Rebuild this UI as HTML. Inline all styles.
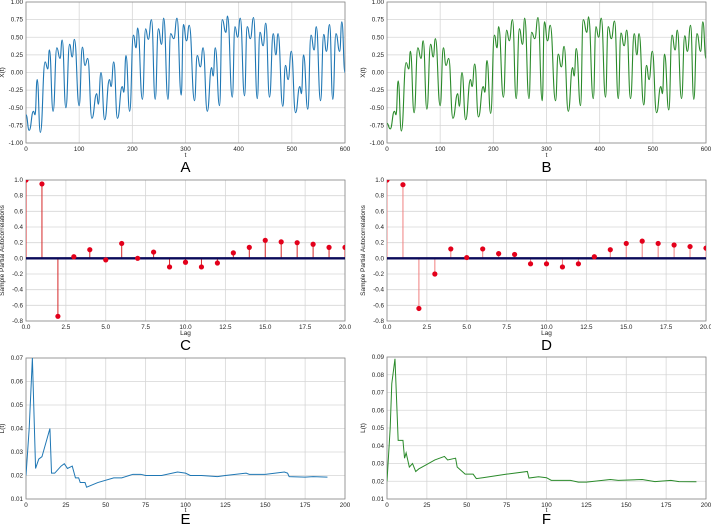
<!DOCTYPE html>
<html><head><meta charset="utf-8"><style>
html,body{margin:0;padding:0;background:#fff;}
svg{display:block;font-family:"Liberation Sans","DejaVu Sans",sans-serif;}
</style></head><body>
<svg id="fig" width="711" height="527" viewBox="0 0 711 527" xmlns="http://www.w3.org/2000/svg"></svg>
<script>
// ---- data ----
const seriesA_t = [0,6,14,17,21,27,36,41,44,51,58,64,68,75,82,87,91,100,106,111,116,124,133,136,141,148,157,160,165,172,181,184,188,195,202,207,210,219,225,230,236,243,249,255,259,267,272,278,284,292,296,302,307,317,322,328,333,341,349,352,356,364,369,376,379,388,393,398,403,411,416,422,428,435,440,446,451,458,465,470,474,483,488,493,499,507,515,518,522,530,536,542,546,554,560,565,571,577,583,590,594,600];
const seriesA_x = [-0.6,-0.82,-0.55,-0.6,-0.1,-0.85,0.15,0.05,0.32,-0.55,0.35,0.2,0.46,-0.5,0.4,0.22,0.47,-0.47,0.36,0.1,0.2,-0.65,-0.3,-0.45,0.0,-0.67,-0.1,-0.2,0.15,-0.65,-0.2,-0.28,0.24,-0.55,0.53,0.35,0.63,-0.38,0.62,0.47,0.75,-0.38,0.62,0.4,0.77,-0.38,0.55,0.48,0.77,-0.32,0.68,0.45,0.67,-0.4,0.24,0.08,0.35,-0.55,0.07,-0.05,0.35,-0.47,0.75,0.57,0.8,-0.35,0.65,0.5,0.77,-0.33,0.65,0.48,0.78,-0.37,0.57,0.38,0.7,-0.35,0.55,0.25,0.55,-0.48,0.1,-0.1,0.3,-0.57,-0.2,-0.3,0.25,-0.52,0.53,0.32,0.65,-0.4,0.54,0.3,0.68,-0.38,0.55,0.3,0.72,0.0];
const seriesB_t = seriesA_t.slice();
const seriesB_x = [-0.72,-0.8,-0.55,-0.6,-0.12,-0.83,0.14,0.05,0.3,-0.57,0.35,0.2,0.45,-0.52,0.4,0.22,0.48,-0.47,0.35,0.1,0.2,-0.65,-0.3,-0.48,0.0,-0.67,-0.1,-0.2,0.12,-0.63,-0.2,-0.28,0.17,-0.58,0.53,0.35,0.65,-0.35,0.6,0.45,0.75,-0.37,0.62,0.4,0.77,-0.37,0.57,0.48,0.78,-0.4,0.72,0.45,0.67,-0.4,0.26,0.08,0.37,-0.55,0.07,-0.05,0.34,-0.47,0.75,0.57,0.79,-0.37,0.65,0.5,0.77,-0.35,0.65,0.48,0.73,-0.37,0.56,0.38,0.6,-0.37,0.55,0.25,0.55,-0.46,0.1,-0.1,0.3,-0.57,-0.2,-0.3,0.26,-0.53,0.53,0.32,0.6,-0.37,0.52,0.3,0.67,-0.38,0.55,0.3,0.72,0.2];
const lagsC = [0,1,2,3,4,5,6,7,8,9,10,11,12,13,14,15,16,17,18,19,20];
const pacfC = [1.0,0.95,-0.74,0.02,0.11,-0.02,0.19,0.0,0.08,-0.11,-0.05,-0.11,-0.06,0.07,0.14,0.23,0.21,0.20,0.18,0.14,0.14];
const pacfD = [1.0,0.94,-0.64,-0.20,0.12,0.01,0.12,0.06,0.05,-0.07,-0.07,-0.11,-0.07,0.02,0.11,0.19,0.22,0.19,0.17,0.15,0.13];
const lossE_t = [0,2,4,6,8,10,15,16,18,22,24,26,29,31,33,34,37,38,45,55,60,67,72,75,85,95,100,103,110,120,125,138,140,145,150,162,164,165,175,180,189];
const lossE_v = [0.02,0.04,0.07,0.023,0.027,0.028,0.04,0.021,0.021,0.024,0.025,0.023,0.024,0.019,0.019,0.017,0.017,0.015,0.017,0.019,0.019,0.0205,0.0205,0.02,0.02,0.0215,0.021,0.02,0.02,0.0195,0.02,0.021,0.0205,0.0205,0.0205,0.0215,0.021,0.0195,0.0193,0.0195,0.0193];
const lossF_t = [0,2,3,5,7,10,11,12,14,16,18,20,24,30,36,38,43,44,49,54,56,60,75,88,89,95,100,103,115,120,125,140,145,160,168,178,183,194];
const lossF_v = [0.02,0.05,0.075,0.089,0.043,0.043,0.033,0.036,0.028,0.030,0.0255,0.027,0.029,0.032,0.034,0.032,0.033,0.028,0.024,0.024,0.0215,0.022,0.024,0.0255,0.0218,0.0225,0.022,0.0205,0.0205,0.0195,0.0195,0.021,0.0205,0.021,0.0198,0.0205,0.0198,0.0197];
const ticksT600 = [0,100,200,300,400,500,600];
const ticksX = [-1,-0.75,-0.5,-0.25,0,0.25,0.5,0.75,1];
const ticksLag = [0,2.5,5,7.5,10,12.5,15,17.5,20];
const ticksPacf = [-0.8,-0.6,-0.4,-0.2,0,0.2,0.4,0.6,0.8,1.0];
const ticksT200 = [0,25,50,75,100,125,150,175,200];
const ticksE = [0.01,0.02,0.03,0.04,0.05,0.06,0.07];
const ticksF = [0.01,0.02,0.03,0.04,0.05,0.06,0.07,0.08,0.09];

const NS="http://www.w3.org/2000/svg";
const fig=document.getElementById('fig');
function mk(tag,attrs,parent){const e=document.createElementNS(NS,tag);for(const k in attrs)e.setAttribute(k,attrs[k]);(parent||fig).appendChild(e);return e;}
let clipN=0;
function panel(o){
  const g=mk('g',{});
  
  
  const sx=v=>o.l+(v-o.x0)/(o.x1-o.x0)*(o.r-o.l);
  const sy=v=>o.b-(v-o.y0)/(o.y1-o.y0)*(o.b-o.t);
  const id='clip'+(clipN++);
  const cp=mk('clipPath',{id},g);
  mk('rect',{x:o.l,y:o.t,width:o.r-o.l,height:o.b-o.t},cp);
  o.xt.forEach(v=>{
    mk('line',{x1:sx(v),x2:sx(v),y1:o.t,y2:o.b,stroke:'#d6d6d6','stroke-width':0.8},g);
    const tx=mk('text',{x:sx(v),y:o.b+8,'font-size':6.3,'text-anchor':'middle',fill:'#222'},g);
    tx.textContent=o.xf(v);
    
    
  });
  o.yt.forEach(v=>{
    mk('line',{x1:o.l,x2:o.r,y1:sy(v),y2:sy(v),stroke:'#d6d6d6','stroke-width':0.8},g);
    const tx=mk('text',{x:o.l-3,y:sy(v)+2,'font-size':6.3,'text-anchor':'end',fill:'#222'},g);
    tx.textContent=o.yf(v);
    
    
  });
  mk('rect',{x:o.l,y:o.t,width:o.r-o.l,height:o.b-o.t,fill:'none',stroke:'#888','stroke-width':0.8},g);
  const xl=mk('text',{x:(o.l+o.r)/2,y:o.b+o.xlOff,'font-size':6.5,'text-anchor':'middle',fill:'#222'},g);
  xl.textContent=o.xlabel;
  
  
  const yx=o.l-22, yy=(o.t+o.b)/2;
  const yl=mk('text',{x:yx,y:yy,'font-size':6.5,'text-anchor':'middle',fill:'#222',transform:`rotate(-90 ${yx} ${yy})`},g);
  yl.textContent=o.ylabel;
  
  
  const pl=mk('text',{x:(o.l+o.r)/2,y:o.b+o.letOff,'font-size':15,'text-anchor':'middle',fill:'#000'},g);
  pl.textContent=o.letter;
  
  
  const inner=mk('g',{'clip-path':`url(#${id})`},g);
  return {g:inner,sx,sy};
}
const f2=v=>v.toFixed(2), f1=v=>v.toFixed(1), f0=v=>String(v);

function smoothSeries(p,ts,xs,color,name){
  let d=`M${p.sx(ts[0])},${p.sy(xs[0])}`;
  for(let i=1;i<ts.length;i++){
    const xa=p.sx(ts[i-1]),xb=p.sx(ts[i]),ya=p.sy(xs[i-1]),yb=p.sy(xs[i]);
    const m=(xb-xa)/2;
    d+=` C${xa+m},${ya} ${xb-m},${yb} ${xb},${yb}`;
  }
  const path=mk('path',{d,fill:'none',stroke:color,'stroke-width':1.1},p.g);
  
  
}
function lineSeries(p,ts,vs,color,name){
  const pts=ts.map((t,i)=>p.sx(t)+','+p.sy(vs[i])).join(' ');
  const pl=mk('polyline',{points:pts,fill:'none',stroke:color,'stroke-width':1},p.g);
  
  
}
function stems(p,lags,vals,stemColor,name){
  lags.forEach((l,i)=>{
    const s=mk('line',{x1:p.sx(l),x2:p.sx(l),y1:p.sy(0),y2:p.sy(vals[i]),stroke:stemColor,'stroke-width':1},p.g);
    
    
  });
  const z=mk('line',{x1:p.sx(0),x2:p.sx(20),y1:p.sy(0),y2:p.sy(0),stroke:'#0a0a5a','stroke-width':2.4},p.g);
  
  
  lags.forEach((l,i)=>{
    const c=mk('circle',{cx:p.sx(l),cy:p.sy(vals[i]),r:2.6,fill:'#e3001b'},p.g);
    
    
  });
}

const L=[26,345], R=[387,706];
const pA=panel({name:'panel-a',l:L[0],r:L[1],t:2,b:143,x0:0,x1:600,y0:-1,y1:1,xt:ticksT600,yt:ticksX,xf:f0,yf:f2,xlabel:'t',ylabel:'X(t)',letter:'A',xlOff:14,letOff:29});
smoothSeries(pA,seriesA_t,seriesA_x,'#1f77b4','series-a-line');
const pB=panel({name:'panel-b',l:R[0],r:R[1],t:2,b:143,x0:0,x1:600,y0:-1,y1:1,xt:ticksT600,yt:ticksX,xf:f0,yf:f2,xlabel:'t',ylabel:'X(t)',letter:'B',xlOff:14,letOff:29});
smoothSeries(pB,seriesB_t,seriesB_x,'#2a8a2a','series-b-line');
const pC=panel({name:'panel-c',l:L[0],r:L[1],t:180,b:321,x0:0,x1:20,y0:-0.8,y1:1,xt:ticksLag,yt:ticksPacf,xf:f1,yf:f1,xlabel:'Lag',ylabel:'Sample Partial Autocorrelations',letter:'C',xlOff:14,letOff:29});
stems(pC,lagsC,pacfC,'#d62728','pacf-c');
const pD=panel({name:'panel-d',l:R[0],r:R[1],t:180,b:321,x0:0,x1:20,y0:-0.8,y1:1,xt:ticksLag,yt:ticksPacf,xf:f1,yf:f1,xlabel:'Lag',ylabel:'Sample Partial Autocorrelations',letter:'D',xlOff:14,letOff:29});
stems(pD,lagsC,pacfD,'#f08080','pacf-d');
const pE=panel({name:'panel-e',l:L[0],r:L[1],t:358,b:499,x0:0,x1:200,y0:0.01,y1:0.07,xt:ticksT200,yt:ticksE,xf:f0,yf:f2,xlabel:'t',ylabel:'L(t)',letter:'E',xlOff:13,letOff:25});
lineSeries(pE,lossE_t,lossE_v,'#1f77b4','loss-e-line');
const pF=panel({name:'panel-f',l:R[0],r:R[1],t:357,b:499,x0:0,x1:200,y0:0.01,y1:0.09,xt:ticksT200,yt:ticksF,xf:f0,yf:f2,xlabel:'t',ylabel:'L(t)',letter:'F',xlOff:13,letOff:25});
lineSeries(pF,lossF_t,lossF_v,'#2a8a2a','loss-f-line');
</script>
</body></html>
